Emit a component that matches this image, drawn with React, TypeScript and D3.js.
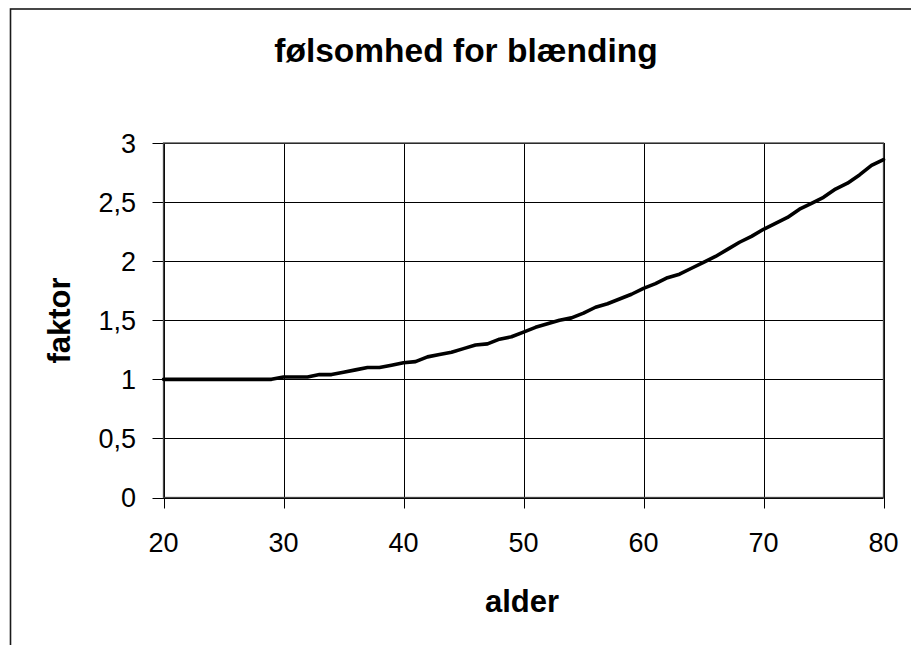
import React from "react";
import * as d3 from "d3";

const ages: number[] = d3.range(20, 81);
const faktor: number[] = [
  1.0, 1.0, 1.0, 1.0, 1.0, 1.0, 1.0, 1.0, 1.0, 1.0, // 20-29
  1.02, 1.02, 1.02, 1.04, 1.04, 1.06, 1.08, 1.1, 1.1, 1.12, // 30-39
  1.14, 1.15, 1.19, 1.21, 1.23, 1.26, 1.29, 1.3, 1.34, 1.36, // 40-49
  1.4, 1.44, 1.47, 1.5, 1.52, 1.56, 1.61, 1.64, 1.68, 1.72, // 50-59
  1.77, 1.81, 1.86, 1.89, 1.94, 1.99, 2.04, 2.1, 2.16, 2.21, // 60-69
  2.27, 2.32, 2.37, 2.44, 2.49, 2.54, 2.61, 2.66, 2.73, 2.81, // 70-79
  2.86, // 80
];
const xTicks: number[] = [20, 30, 40, 50, 60, 70, 80];
const yTicks: number[] = [0, 0.5, 1, 1.5, 2, 2.5, 3];
const title = "følsomhed for blænding";
const xLabel = "alder";
const yLabel = "faktor";

const W = 911;
const H = 645;
const FONT = "'Liberation Sans', Arial, sans-serif";

export default function App() {
  const x = d3.scaleLinear().domain([20, 80]).range([163.5, 883.5]);
  const y = d3.scaleLinear().domain([0, 3]).range([497.5, 143]);
  const line = d3
    .line<number>()
    .x((_, i) => x(ages[i]))
    .y((d) => y(d));
  const fmt = (v: number) => String(v).replace(".", ",");

  return (
    <svg
      width={W}
      height={H}
      style={{ position: "absolute", left: 0, top: 0, background: "#fff" }}
    >
      <rect x={0} y={0} width={W} height={H} fill="#fff" />
      <rect
        x={10.5}
        y={9}
        width={1000}
        height={1000}
        fill="none"
        stroke="#1a1a1a"
        strokeWidth={1.6}
      />
      {/* grid */}
      {yTicks.map((t) => (
        <line
          key={"gy" + t}
          x1={x(20) - 11}
          x2={x(80)}
          y1={Math.round(y(t)) + 0.5}
          y2={Math.round(y(t)) + 0.5}
          stroke="#000"
          strokeWidth={1}
        />
      ))}
      {xTicks.map((t) => (
        <line
          key={"gx" + t}
          x1={Math.round(x(t)) + 0.5}
          x2={Math.round(x(t)) + 0.5}
          y1={y(3)}
          y2={y(0) + 11}
          stroke="#000"
          strokeWidth={1}
        />
      ))}
      <rect
        x={x(20)}
        y={y(3)}
        width={x(80) - x(20)}
        height={y(0) - y(3)}
        fill="none"
        stroke="#444"
        strokeWidth={1.3}
      />
      {/* data line */}
      <path
        d={line(faktor) || ""}
        fill="none"
        stroke="#000"
        strokeWidth={3.6}
        strokeLinejoin="round"
        strokeLinecap="round"
      />
      {/* y tick labels */}
      {yTicks.map((t) => (
        <text
          key={"ly" + t}
          x={136}
          y={y(t) + 9.7}
          textAnchor="end"
          fontFamily={FONT}
          fontSize={27}
          fill="#000"
        >
          {fmt(t)}
        </text>
      ))}
      {/* x tick labels */}
      {xTicks.map((t) => (
        <text
          key={"lx" + t}
          x={x(t)}
          y={552}
          textAnchor="middle"
          fontFamily={FONT}
          fontSize={27}
          fill="#000"
        >
          {t}
        </text>
      ))}
      <text
        x={466}
        y={62}
        textAnchor="middle"
        fontFamily={FONT}
        fontWeight="bold"
        fontSize={33.5}
        fill="#000"
      >
        {title}
      </text>
      <text
        x={522}
        y={611.5}
        textAnchor="middle"
        fontFamily={FONT}
        fontWeight="bold"
        fontSize={31}
        fill="#000"
      >
        {xLabel}
      </text>
      <text
        transform={`translate(70,320.5) rotate(-90)`}
        textAnchor="middle"
        fontFamily={FONT}
        fontWeight="bold"
        fontSize={31}
        fill="#000"
      >
        {yLabel}
      </text>
    </svg>
  );
}
